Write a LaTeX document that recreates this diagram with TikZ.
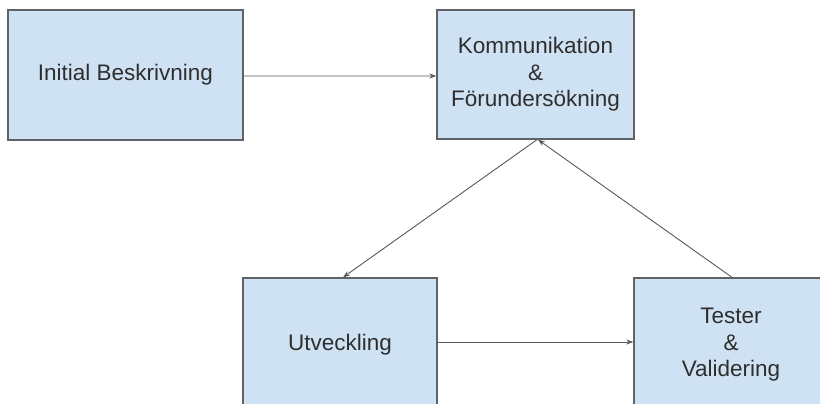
\documentclass[tikz,border=0pt]{standalone}
\usepackage{fontspec}
\setmainfont{Liberation Sans}
\usetikzlibrary{arrows.meta,calc}
\definecolor{boxfill}{HTML}{CFE2F3}
\definecolor{boxline}{HTML}{5F6368}
\definecolor{arrowline}{HTML}{595959}
\definecolor{txt}{HTML}{2E2E2E}
\begin{document}
\begin{tikzpicture}[x=1bp,y=-1bp,
  stagebox/.style={draw=boxline, fill=boxfill, line width=1.3bp, inner sep=0pt,
    align=center, text=txt, font=\fontsize{22.5bp}{26.5bp}\selectfont},
  flow/.style={draw=arrowline, line width=0.9bp, -{Stealth[length=7bp,width=5bp]}}]
\fill[white] (0,0) rectangle (820,403);
\node[stagebox, minimum width=235bp, minimum height=130bp] (b1) at (125.5,75) {Initial Beskrivning};
\node[stagebox, minimum width=197bp, minimum height=129bp] (b2) at (535.5,74.5) {Kommunikation\\\&\\Förundersökning};
\node[stagebox, minimum width=194bp, minimum height=134bp] (b3) at (340,345) {Utveckling};
\node[stagebox, minimum width=240bp, minimum height=134bp] (b4) at (754,345)
  {\begin{tabular}{@{}c@{}}Tester\\\&\\Validering\end{tabular}\hspace*{46bp}};
\draw[flow] ($(b1.east)+(0,1)$) -- ($(b2.west)+(0,1.5)$);
\draw[flow] ($(b2.south)+(1.5,0)$) -- ($(b3.north)+(3,0)$);
\draw[flow] ($(b3.east)+(0,-3)$) -- ($(b4.west)+(0,-3)$);
\draw[flow] ($(b4.north)+(-22,0)$) -- ($(b2.south)+(2.5,0)$);
\pgfresetboundingbox
\useasboundingbox (0,0) rectangle (820,403);
\end{tikzpicture}
\end{document}
